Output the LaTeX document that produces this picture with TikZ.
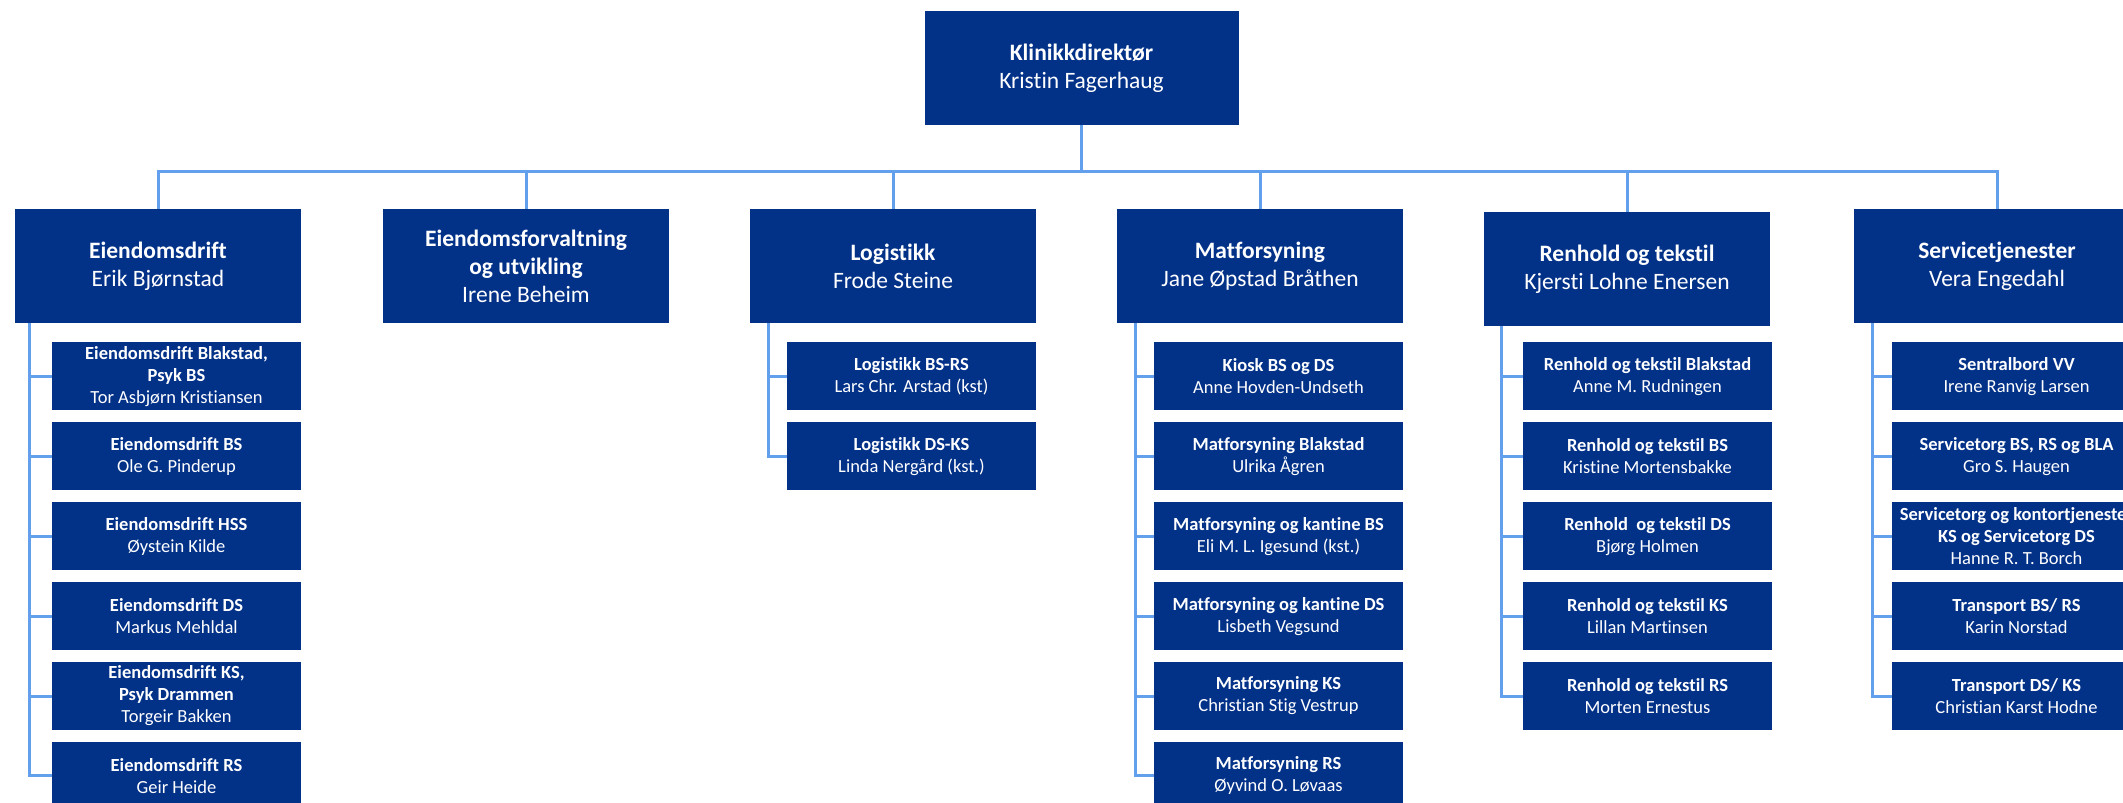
\documentclass[tikz,border=0pt]{standalone}
\usepackage{fontspec}
\setmainfont{Carlito}[Ligatures=NoCommon]
\usetikzlibrary{positioning, calc}
\definecolor{orgBlue}{RGB}{2, 49, 136}
\definecolor{orgLine}{RGB}{98, 160, 238}

\begin{document}
\begin{tikzpicture}[
        x=1pt, y=1pt,
        node distance=11.5pt,
        head/.style={rectangle, fill=orgBlue, text=white, minimum width=286pt, minimum height=114pt, inner sep=0pt, align=center, font=\fontsize{23.5}{28}\selectfont},
        unit/.style={rectangle, fill=orgBlue, text=white, minimum width=249pt, minimum height=68pt, inner sep=0pt, align=center, font=\fontsize{18.5}{22}\selectfont},
        conn/.style={draw=orgLine, line width=3pt}
    ]
        \useasboundingbox (0,0) rectangle (2123,-803);
        \clip (0,0) rectangle (2123,-803);

        % Director
        \node[head, minimum width=314pt] (dir) at (1081.5,-68) {\textbf{Klinikkdirektør}\\Kristin Fagerhaug};
        \coordinate (bus) at (0,-171);

        % Departments
        \node[head] (eiend) at (158,-266) {\textbf{Eiendomsdrift}\\Erik Bjørnstad};
        \node[head] (forv) at (526,-266) {\textbf{Eiendomsforvaltning}\\\textbf{og utvikling}\\Irene Beheim};
        \node[head] (logi) at (893,-266) {\textbf{Logistikk}\\Frode Steine};
        \node[head] (mat) at (1260,-266) {\textbf{Matforsyning}\\Jane Øpstad Bråthen};
        \node[head] (renh) at (1627,-269) {\textbf{Renhold og tekstil}\\Kjersti Lohne Enersen};
        \node[head] (serv) at (1997,-266) {\textbf{Servicetjenester}\\Vera Engedahl};

        % Eiendomsdrift units
        \node[unit, anchor=north east] (eiend1) at ($(eiend.south east)+(0,-19)$) {\textbf{Eiendomsdrift Blakstad,}\\\textbf{Psyk BS}\\Tor Asbjørn Kristiansen};
        \node[unit, below=of eiend1] (eiend2) {\textbf{Eiendomsdrift BS}\\Ole G. Pinderup};
        \node[unit, below=of eiend2] (eiend3) {\textbf{Eiendomsdrift HSS}\\Øystein Kilde};
        \node[unit, below=of eiend3] (eiend4) {\textbf{Eiendomsdrift DS}\\Markus Mehldal};
        \node[unit, below=of eiend4] (eiend5) {\textbf{Eiendomsdrift KS,}\\\textbf{Psyk Drammen}\\Torgeir Bakken};
        \node[unit, below=of eiend5] (eiend6) {\textbf{Eiendomsdrift RS}\\Geir Heide};

        % Logistikk units
        \node[unit, anchor=north east] (logi1) at ($(logi.south east)+(0,-19)$) {\textbf{Logistikk BS-RS}\\Lars Chr. Arstad (kst)};
        \node[unit, below=of logi1] (logi2) {\textbf{Logistikk DS-KS}\\Linda Nergård (kst.)};

        % Matforsyning units
        \node[unit, anchor=north east] (mat1) at ($(mat.south east)+(0,-19)$) {\textbf{Kiosk BS og DS}\\Anne Hovden-Undseth};
        \node[unit, below=of mat1] (mat2) {\textbf{Matforsyning Blakstad}\\Ulrika Ågren};
        \node[unit, below=of mat2] (mat3) {\textbf{Matforsyning og kantine BS}\\Eli M. L. Igesund (kst.)};
        \node[unit, below=of mat3] (mat4) {\textbf{Matforsyning og kantine DS}\\Lisbeth Vegsund};
        \node[unit, below=of mat4] (mat5) {\textbf{Matforsyning KS}\\Christian Stig Vestrup};
        \node[unit, below=of mat5] (mat6) {\textbf{Matforsyning RS}\\Øyvind O. Løvaas};

        % Renhold units
        \node[unit, anchor=north east] (renh1) at ($(renh.south east)+(2,-16)$) {\textbf{Renhold og tekstil Blakstad}\\Anne M. Rudningen};
        \node[unit, below=of renh1] (renh2) {\textbf{Renhold og tekstil BS}\\Kristine Mortensbakke};
        \node[unit, below=of renh2] (renh3) {\textbf{Renhold\ \ og tekstil DS}\\Bjørg Holmen};
        \node[unit, below=of renh3] (renh4) {\textbf{Renhold og tekstil KS}\\Lillan Martinsen};
        \node[unit, below=of renh4] (renh5) {\textbf{Renhold og tekstil RS}\\Morten Ernestus};

        % Servicetjenester units
        \node[unit, anchor=north west] (serv1) at ($(serv.south west)+(38,-19)$) {\textbf{Sentralbord VV}\\Irene Ranvig Larsen};
        \node[unit, below=of serv1] (serv2) {\textbf{Servicetorg BS, RS og BLA}\\Gro S. Haugen};
        \node[unit, below=of serv2] (serv3) {\textbf{Servicetorg og kontortjenester}\\\textbf{KS og Servicetorg DS}\\Hanne R. T. Borch};
        \node[unit, below=of serv3] (serv4) {\textbf{Transport BS/ RS}\\Karin Norstad};
        \node[unit, below=of serv4] (serv5) {\textbf{Transport DS/ KS}\\Christian Karst Hodne};

        % Director to departments
        \draw[conn] (dir.south) |- (eiend.north |- bus) -- (eiend.north);
        \draw[conn] (dir.south) |- (forv.north |- bus) -- (forv.north);
        \draw[conn] (dir.south) |- (logi.north |- bus) -- (logi.north);
        \draw[conn] (dir.south) |- (mat.north |- bus) -- (mat.north);
        \draw[conn] (dir.south) |- (renh.north |- bus) -- (renh.north);
        \draw[conn] (dir.south) |- (serv.north |- bus) -- (serv.north);

        % Rails
        \coordinate (eiendrail) at ($(eiend.south west)+(15,0)$);
        \coordinate (logirail) at ($(logi.south west)+(19,0)$);
        \coordinate (matrail) at ($(mat.south west)+(19,0)$);
        \coordinate (renhrail) at ($(renh.south west)+(18,0)$);
        \coordinate (servrail) at ($(serv.south west)+(19,0)$);

        \draw[conn] (eiendrail) |- (eiend1.west);
        \draw[conn] (eiendrail) |- (eiend2.west);
        \draw[conn] (eiendrail) |- (eiend3.west);
        \draw[conn] (eiendrail) |- (eiend4.west);
        \draw[conn] (eiendrail) |- (eiend5.west);
        \draw[conn] (eiendrail) |- (eiend6.west);

        \draw[conn] (logirail) |- (logi1.west);
        \draw[conn] (logirail) |- (logi2.west);

        \draw[conn] (matrail) |- (mat1.west);
        \draw[conn] (matrail) |- (mat2.west);
        \draw[conn] (matrail) |- (mat3.west);
        \draw[conn] (matrail) |- (mat4.west);
        \draw[conn] (matrail) |- (mat5.west);
        \draw[conn] (matrail) |- (mat6.west);

        \draw[conn] (renhrail) |- (renh1.west);
        \draw[conn] (renhrail) |- (renh2.west);
        \draw[conn] (renhrail) |- (renh3.west);
        \draw[conn] (renhrail) |- (renh4.west);
        \draw[conn] (renhrail) |- (renh5.west);

        \draw[conn] (servrail) |- (serv1.west);
        \draw[conn] (servrail) |- (serv2.west);
        \draw[conn] (servrail) |- (serv3.west);
        \draw[conn] (servrail) |- (serv4.west);
        \draw[conn] (servrail) |- (serv5.west);
    \end{tikzpicture}
\end{document}
